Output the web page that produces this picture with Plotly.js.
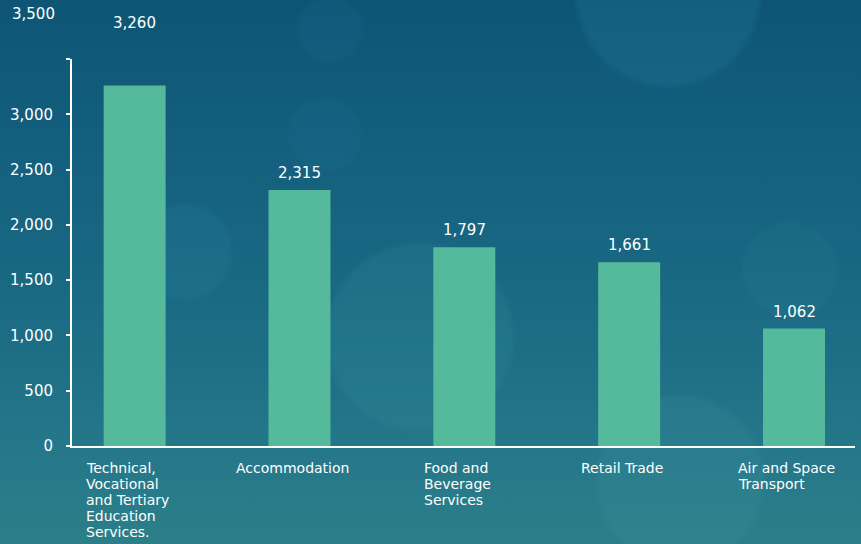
<!DOCTYPE html>
<html>
<head>
<meta charset="utf-8">
<script src="https://cdn.plot.ly/plotly-3.0.1.min.js"></script>
<style>
  html, body { margin: 0; padding: 0; }
  body {
    width: 861px; height: 544px; overflow: hidden;
    background:
      radial-gradient(circle at 668px -5px, rgba(40,130,170,0.22) 0, rgba(40,130,170,0.22) 88px, rgba(40,130,170,0) 95px),
      radial-gradient(circle at 420px 337px, rgba(60,150,160,0.17) 0, rgba(60,150,160,0.17) 90px, rgba(60,150,160,0) 97px),
      radial-gradient(circle at 185px 252px, rgba(50,140,165,0.15) 0, rgba(50,140,165,0.15) 44px, rgba(50,140,165,0) 50px),
      radial-gradient(circle at 680px 480px, rgba(70,160,165,0.14) 0, rgba(70,160,165,0.14) 80px, rgba(70,160,165,0) 88px),
      radial-gradient(circle at 325px 135px, rgba(40,120,160,0.11) 0, rgba(40,120,160,0.11) 34px, rgba(40,120,160,0) 39px),
      radial-gradient(circle at 330px 30px, rgba(40,120,160,0.11) 0, rgba(40,120,160,0.11) 30px, rgba(40,120,160,0) 35px),
      radial-gradient(circle at 790px 270px, rgba(50,140,160,0.11) 0, rgba(50,140,160,0.11) 45px, rgba(50,140,160,0) 50px),
      linear-gradient(to bottom, #0e5575 0%, #14607e 30%, #1b6c84 60%, #26788a 85%, #2b7f88 100%);
  }
  #chart { width: 861px; height: 544px; }
</style>
</head>
<body>
<div id="chart"></div>
<script>
const categories = [
  "Technical, Vocational and Tertiary Education Services.",
  "Accommodation",
  "Food and Beverage Services",
  "Retail Trade",
  "Air and Space Transport"
];
const categoryLines = [
  ["Technical,", "Vocational", "and Tertiary", "Education", "Services."],
  ["Accommodation"],
  ["Food and", "Beverage", "Services"],
  ["Retail Trade"],
  ["Air and Space", "Transport"]
];
const values = [3260, 2315, 1797, 1661, 1062];
const yTickValues = [0, 500, 1000, 1500, 2000, 2500, 3000, 3500];

const fmt = v => v.toLocaleString("en-US");
const FAMILY = "DejaVu Sans";
const FONT = "'DejaVu Sans', sans-serif";
const LABEL_SIZE = 14;
const NUM_SIZE = 15;

// measure text to centre each left-aligned label block under its bar
const ctx = document.createElement("canvas").getContext("2d");
ctx.font = LABEL_SIZE + "px '" + FAMILY + "'";
const blockWidth = lines => Math.max(...lines.map(s => ctx.measureText(s).width));

const trace = {
  type: "bar",
  x: categories,
  y: values,
  width: 0.376,
  marker: { color: "#55b99b", line: { width: 0 } },
  hoverinfo: "skip"
};

const annotations = [];
values.forEach((v, i) => {
  annotations.push({
    x: categories[i], y: v, xref: "x", yref: "y",
    text: fmt(v), showarrow: false,
    yanchor: "bottom", yshift: i === 0 ? 52 : 6,
    font: { family: FONT, size: NUM_SIZE, color: "#ffffff" }
  });
  const w = blockWidth(categoryLines[i]);
  categoryLines[i].forEach((line, k) => {
    annotations.push({
      x: categories[i], y: 0, xref: "x", yref: "y",
      text: line, showarrow: false, borderpad: 0,
      xanchor: "left", yanchor: "top", align: "left",
      xshift: -w / 2 - 8, yshift: -13 - 16 * k,
      font: { family: FONT, size: LABEL_SIZE, color: "#ffffff" }
    });
  });
});
// top tick label drawn above the axis end
annotations.push({
  x: 0, xref: "paper", y: yTickValues[yTickValues.length - 1], yref: "y",
  text: fmt(yTickValues[yTickValues.length - 1]), showarrow: false,
  xanchor: "right", yanchor: "middle", xshift: -15, yshift: 45,
  font: { family: FONT, size: NUM_SIZE, color: "#ffffff" }
});

const layout = {
  width: 861, height: 544,
  margin: { l: 72, r: 6, t: 59, b: 98, pad: 0 },
  paper_bgcolor: "rgba(0,0,0,0)",
  plot_bgcolor: "rgba(0,0,0,0)",
  showlegend: false,
  font: { family: FONT, color: "#ffffff" },
  xaxis: {
    type: "category",
    range: [-0.38, 4.37],
    showline: true, linecolor: "#ffffff", linewidth: 2,
    showticklabels: false, ticks: "",
    showgrid: false, zeroline: false, fixedrange: true
  },
  yaxis: {
    range: [0, 3500],
    tickmode: "array",
    tickvals: yTickValues,
    ticktext: yTickValues.map((v, i) => i === yTickValues.length - 1 ? "" : fmt(v)),
    showline: true, linecolor: "#ffffff", linewidth: 2,
    ticks: "outside", ticklen: 4, tickwidth: 2, tickcolor: "#ffffff",
    ticklabelstandoff: 10,
    tickfont: { family: FONT, size: NUM_SIZE, color: "#ffffff" },
    showgrid: false, zeroline: false, fixedrange: true
  },
  annotations: annotations
};

Plotly.newPlot("chart", [trace], layout, { displayModeBar: false, staticPlot: true });
</script>
</body>
</html>
